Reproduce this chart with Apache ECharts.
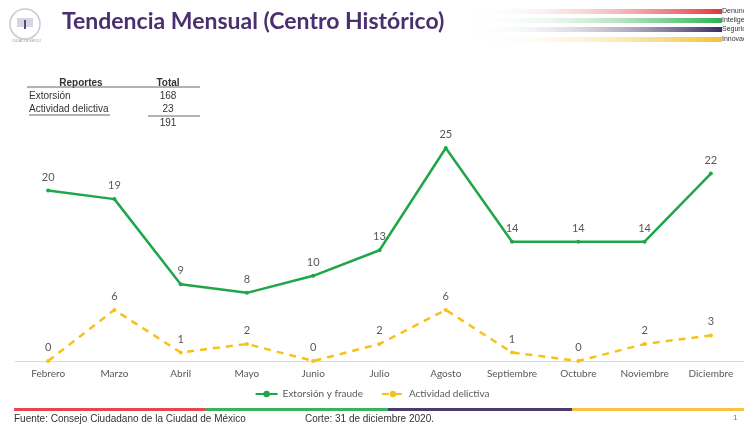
<!DOCTYPE html>
<html>
<head>
<meta charset="utf-8">
<style>
  html, body { margin: 0; padding: 0; background: #fff; }
  #chart { width: 744px; height: 427px; }
</style>
<script src="https://cdn.jsdelivr.net/npm/echarts@6/dist/echarts.min.js"></script>
</head>
<body>
<div id="chart"></div>
<script>
// datos del gráfico
var meses = ['Febrero', 'Marzo', 'Abril', 'Mayo', 'Junio', 'Julio', 'Agosto', 'Septiembre', 'Octubre', 'Noviembre', 'Diciembre'];
var extorsion = [20, 19, 9, 8, 10, 13, 25, 14, 14, 14, 22];
var actividad = [0, 6, 1, 2, 0, 2, 6, 1, 0, 2, 3];

// tabla de totales
var tablaFilas = [['Extorsión', '168'], ['Actividad delictiva', '23']];
var tablaTotal = '191';

var chart = echarts.init(document.getElementById('chart'));

var txtFont = 'Liberation Sans';
var gris = '#595959';

// barras de colores de la cabecera
var barras = [
    {color: '#e2343c', y: 9, label: 'Denuncia'},
    {color: '#2bb04f', y: 18, label: 'Inteligencia'},
    {color: '#3a2d62', y: 27, label: 'Seguridad'},
    {color: '#f3c234', y: 37, label: 'Innovación'}
];

var graficos = [];

// logo
graficos.push({type: 'circle', shape: {cx: 25, cy: 24, r: 15}, style: {fill: 'none', stroke: '#c9c9d3', lineWidth: 1.5}});
graficos.push({type: 'rect', shape: {x: 17, y: 18, width: 16, height: 9}, style: {fill: '#d5d6e3'}});
graficos.push({type: 'rect', shape: {x: 24, y: 20, width: 2, height: 9}, style: {fill: '#5a4a7a'}});
graficos.push({type: 'text', left: 12, top: 40, style: {text: 'CIUDAD DE MÉXICO', fontSize: 3, fill: '#999'}});

// título
graficos.push({
    type: 'text', left: 62, top: 10,
    style: {text: 'Tendencia Mensual (Centro Histórico)', fontFamily: 'Lato', fontWeight: 'bold', fontSize: 23, fill: '#4b2f6f'}
});

barras.forEach(function (b) {
    graficos.push({
        type: 'rect', shape: {x: 470, y: b.y, width: 252, height: 5},
        style: {fill: new echarts.graphic.LinearGradient(0, 0, 1, 0, [
            {offset: 0, color: 'rgba(255,255,255,0)'},
            {offset: 1, color: b.color}
        ])}
    });
    graficos.push({type: 'text', left: 722, top: b.y - 1, style: {text: b.label, fontSize: 7, fill: '#333', fontFamily: txtFont}});
});

// tabla
graficos.push({type: 'text', x: 81, y: 83, style: {text: 'Reportes', fontWeight: 'bold', fontSize: 10, fill: '#333', fontFamily: txtFont, align: 'center', verticalAlign: 'middle'}});
graficos.push({type: 'text', x: 168, y: 83, style: {text: 'Total', fontWeight: 'bold', fontSize: 10, fill: '#333', fontFamily: txtFont, align: 'center', verticalAlign: 'middle'}});
graficos.push({type: 'line', shape: {x1: 27, y1: 87, x2: 200, y2: 87}, style: {stroke: '#666', lineWidth: 1}});
tablaFilas.forEach(function (f, i) {
    var y = 96 + i * 13;
    graficos.push({type: 'text', x: 29, y: y, style: {text: f[0], fontSize: 10, fill: '#333', fontFamily: txtFont, verticalAlign: 'middle'}});
    graficos.push({type: 'text', x: 168, y: y, style: {text: f[1], fontSize: 10, fill: '#333', fontFamily: txtFont, align: 'center', verticalAlign: 'middle'}});
});
graficos.push({type: 'line', shape: {x1: 29, y1: 115, x2: 110, y2: 115}, style: {stroke: '#666', lineWidth: 1}});
graficos.push({type: 'line', shape: {x1: 148, y1: 116, x2: 200, y2: 116}, style: {stroke: '#666', lineWidth: 1}});
graficos.push({type: 'text', x: 168, y: 123, style: {text: tablaTotal, fontSize: 10, fill: '#333', fontFamily: txtFont, align: 'center', verticalAlign: 'middle'}});

// pie de página
var pieColores = [['#e8464c', 14, 205], ['#35b45a', 205, 388], ['#4b3a6b', 388, 572], ['#f5c242', 572, 744]];
pieColores.forEach(function (p) {
    graficos.push({type: 'rect', shape: {x: p[1], y: 408, width: p[2] - p[1], height: 3}, style: {fill: p[0]}});
});
graficos.push({type: 'text', left: 14, top: 414, style: {text: 'Fuente: Consejo Ciudadano de la Ciudad de México', fontSize: 10, fill: '#333', fontFamily: txtFont}});
graficos.push({type: 'text', left: 305, top: 414, style: {text: 'Corte: 31 de diciembre 2020.', fontSize: 10, fill: '#333', fontFamily: txtFont}});
graficos.push({type: 'text', left: 733, top: 414, style: {text: '1', fontSize: 8, fill: '#777', fontFamily: txtFont}});

var option = {
    animation: false,
    grid: {left: 15, width: 735, top: 148, bottom: 66},
    legend: {
        left: 'center', top: 384,
        itemWidth: 22, itemHeight: 8, itemGap: 18,
        textStyle: {fontFamily: 'Lato', fontSize: 10, color: gris},
        data: ['Extorsión y fraude', 'Actividad delictiva']
    },
    xAxis: {
        type: 'category',
        data: meses,
        boundaryGap: true,
        axisLine: {lineStyle: {color: '#d9d9d9'}},
        axisTick: {show: false},
        axisLabel: {fontFamily: 'Lato', fontSize: 10, color: gris, margin: 8, interval: 0}
    },
    yAxis: {
        type: 'value', min: 0, max: 25,
        show: false
    },
    series: [{
        name: 'Extorsión y fraude',
        type: 'line',
        data: extorsion,
        symbol: 'circle', symbolSize: 4,
        lineStyle: {color: '#1fa64a', width: 2.5},
        itemStyle: {color: '#1fa64a'},
        label: {show: true, position: 'top', distance: 6, fontFamily: 'Lato', fontSize: 11, color: gris}
    }, {
        name: 'Actividad delictiva',
        type: 'line',
        data: actividad,
        symbol: 'circle', symbolSize: 4,
        lineStyle: {color: '#f6c21a', width: 2.5, type: [7, 6]},
        itemStyle: {color: '#f6c21a'},
        label: {show: true, position: 'top', distance: 6, fontFamily: 'Lato', fontSize: 11, color: gris}
    }],
    graphic: graficos
};

chart.setOption(option);
</script>
</body>
</html>
